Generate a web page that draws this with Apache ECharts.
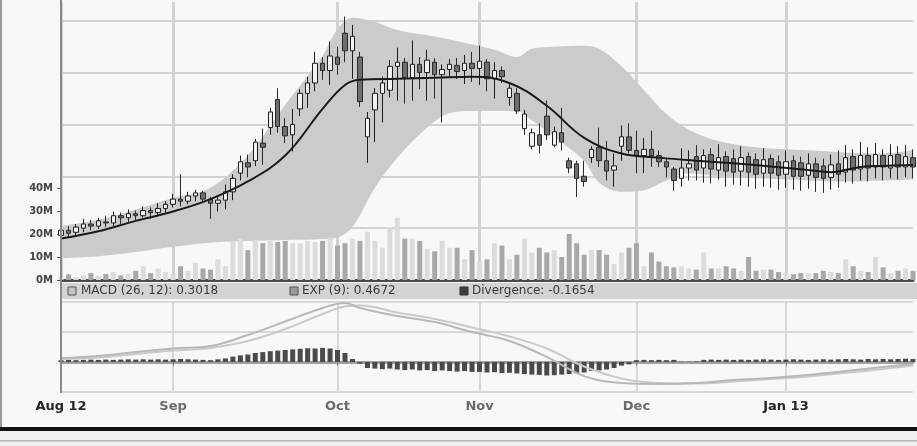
<!DOCTYPE html>
<html><head><meta charset="utf-8">
<script src="https://cdn.jsdelivr.net/npm/echarts@6/dist/echarts.min.js"></script>
<style>html,body{margin:0;padding:0;background:#f8f8f8}#c{width:917px;height:446px}</style>
</head><body><div id="c"></div><script>
// ---- data ----
const tradingDays = Array.from({length: 115}, (_, i) => 'Day ' + (i + 1));
const monthTickIdx = [0, 15, 37, 56, 77, 97];
const monthTickLabels = ['Aug 12', 'Sep', 'Oct', 'Nov', 'Dec', 'Jan 13'];

const opens = [19.3,19.8,19.6,20.0,20.4,20.2,20.6,20.5,21.2,21.0,
21.4,21.2,21.7,21.5,21.9,22.3,22.8,22.6,23.1,23.4,
22.8,22.4,22.7,23.5,25.3,26.3,26.5,28.2,29.7,32.4,
29.8,29.0,31.5,33.0,34.0,35.9,35.2,36.5,38.8,37.1,
36.5,28.8,31.4,33.0,33.3,35.6,36.0,34.5,35.8,35.0,
36.0,34.8,35.3,35.7,35.2,35.9,35.4,36.0,34.4,35.2,
32.6,33.0,29.6,27.9,29.0,30.8,28.0,29.2,26.5,26.2,
25.0,26.8,27.8,26.5,25.6,27.9,28.8,27.5,27.0,27.6,
27.0,26.4,25.7,24.8,25.8,26.9,25.8,27.1,25.6,26.9,
26.7,25.5,26.9,26.6,25.3,26.7,26.4,25.2,26.5,26.3,
25.1,26.2,26.0,24.9,26.2,25.4,26.9,25.7,27.0,25.9,
27.0,25.8,27.1,25.9,26.8];
const closes = [19.8,19.5,20.1,20.4,20.2,20.7,20.5,21.2,21.0,21.4,
21.2,21.7,21.5,21.9,22.3,22.8,22.6,23.1,23.4,22.8,
22.4,22.7,23.5,24.8,26.4,25.9,28.3,27.8,31.2,29.8,
28.9,30.0,33.0,34.0,35.9,35.2,36.6,35.8,37.1,38.5,
32.2,30.6,33.0,34.0,35.6,36.0,34.5,35.8,35.0,36.2,
34.8,35.3,35.8,35.1,35.9,35.4,36.1,34.4,35.2,34.6,
33.5,31.3,31.0,29.2,28.0,29.0,29.3,28.3,25.8,24.8,
24.5,27.6,26.5,25.5,26.0,28.8,27.5,27.0,27.6,27.0,
26.4,25.9,24.6,25.8,26.2,25.6,27.0,25.7,26.8,25.5,
25.4,26.8,25.4,25.2,26.6,25.3,25.1,26.4,25.0,25.0,
26.2,24.9,24.8,26.1,25.2,26.8,25.6,27.0,25.8,27.1,
25.9,27.0,25.9,26.9,25.9];
const lows = [19.0,19.1,19.3,19.6,19.8,19.9,20.1,20.2,20.4,20.6,
20.8,21.0,20.9,21.2,21.5,22.0,22.1,22.3,22.6,22.4,
20.9,21.6,21.8,22.7,24.6,24.9,26.0,26.1,29.0,29.2,
28.2,27.4,30.8,31.6,33.2,34.3,33.8,34.8,36.0,34.4,
31.7,26.3,28.3,30.2,32.6,32.3,32.0,32.3,33.4,32.3,
32.5,30.2,34.6,34.4,33.9,34.1,33.8,33.2,32.5,34.0,
31.8,31.0,29.0,27.6,27.2,28.5,27.8,27.5,25.3,23.0,
24.0,26.3,25.9,24.6,24.0,26.5,27.2,25.3,25.3,25.9,
25.9,24.9,23.6,24.0,24.6,24.6,24.4,24.3,24.7,24.0,
24.2,24.1,24.0,23.8,24.0,23.9,23.7,23.9,23.7,23.6,
23.8,23.5,23.4,23.7,23.9,24.4,24.3,24.6,24.5,24.8,
24.6,24.8,24.7,24.9,24.8];
const highs = [20.1,20.2,20.4,20.9,20.8,21.0,21.2,21.6,21.5,21.8,
21.7,22.1,22.0,22.4,22.6,23.3,25.2,23.5,23.7,23.6,
23.0,23.2,24.2,25.2,27.0,27.1,28.6,29.6,31.6,33.5,
30.6,31.5,33.4,34.6,37.0,36.5,38.0,37.5,40.4,39.6,
37.0,31.2,33.5,34.6,36.2,37.4,36.4,38.1,36.5,37.2,
36.4,35.8,36.3,36.4,36.7,37.0,37.6,36.3,36.0,35.6,
34.0,33.5,31.4,29.6,30.1,32.3,29.8,31.6,26.8,26.5,
26.5,27.9,29.7,28.4,27.2,29.9,30.1,29.4,28.7,29.4,
27.5,26.8,25.9,27.7,27.5,28.0,27.6,27.7,28.1,27.4,
27.6,27.9,27.3,27.2,27.7,27.1,27.0,27.5,27.0,26.9,
27.2,26.8,26.7,27.1,27.5,28.0,27.6,28.3,27.8,28.2,
27.6,28.1,27.9,28.0,27.6];
// volume in millions
const volumes = [1.5,2.5,1.2,2,3,1.8,2.6,3.5,2,2.8,4,6,3,5,3.5,2.5,6,4,7.5,5,4.5,9,6,
17,18,13,17.5,16,17,16.5,17,16,16,17,16.5,17,18.5,15,16,
18,17,21,17,14,23,27,18,18,17,13.5,12.5,17,14,14,9,13,8,9,16,15,9,
11,18,12,14,12,13,10,20,16,11,13,13,11,7,12,14,16,6,12,8,6,5.5,6,5,4.5,
12,5,5,6,5,4,10,4,4.5,4.5,3.5,3,2.5,3,3,3,4,3.5,3,9,6,4,3.5,10,5.5,3,4,5,4];

// Bollinger band, read at these trading-day indices
const bandIdx   = [0,5,10,15,20,25,30,35,37,39,42,45,49,52,55,58,61,63,66,70,72,75,78,81,84,88,93,100,105,110,114];
const bandUpper = [20.2,20.8,21.8,22.9,23.9,27.0,31.9,36.6,39.2,40.3,39.9,39.1,38.6,38.2,37.7,37.2,36.5,37.3,37.5,37.6,37.3,35.6,33.3,31.0,29.5,28.4,27.8,27.5,27.3,27.2,27.5];
const bandLower = [17.1,17.3,17.7,18.2,18.6,18.75,18.85,18.95,19.1,20.1,23.9,26.8,29.7,31.1,31.3,31.3,31.3,30.4,28.8,26.5,24.4,23.5,23.65,24.6,25.3,25.0,24.8,24.6,24.5,24.6,24.7];

// moving average
const maIdx    = [0,5,10,15,20,25,30,35,38,40,45,50,55,60,65,70,75,80,85,90,95,100,103,107,110,114];
const maValues = [19.0,19.7,20.7,21.6,22.8,24.5,27.0,31.5,33.8,34.3,34.4,34.5,34.6,34.0,31.8,28.7,27.2,26.8,26.5,26.25,25.95,25.6,25.4,25.9,26.0,26.1];

// MACD panel
const macdIdx    = [0,5,10,15,20,25,30,35,38,40,45,50,55,60,65,70,75,80,85,90,95,100,105,110,114];
const macdLine   = [0.13,0.2,0.33,0.45,0.53,0.9,1.35,1.8,1.97,1.8,1.53,1.33,1.0,0.7,0.17,-0.47,-0.7,-0.73,-0.7,-0.6,-0.53,-0.43,-0.3,-0.17,-0.07];
const signalLine = [0.1,0.15,0.27,0.38,0.47,0.7,1.1,1.6,1.85,1.88,1.65,1.43,1.15,0.85,0.45,-0.15,-0.55,-0.7,-0.72,-0.65,-0.57,-0.48,-0.36,-0.23,-0.12];
const divergence = [0.06,0.07,0.06,0.07,0.08,0.07,0.08,0.07,0.08,0.09,0.08,0.09,0.08,0.09,0.08,
0.09,0.1,0.09,0.08,0.07,0.06,0.09,0.12,
0.18,0.22,0.25,0.3,0.33,0.36,0.38,0.4,0.42,0.44,0.46,0.45,0.47,0.45,0.4,0.3,
0.1,-0.05,
-0.2,-0.22,-0.24,-0.22,-0.25,-0.27,-0.25,-0.28,-0.27,-0.3,-0.28,-0.3,-0.32,-0.3,-0.33,
-0.33,-0.35,-0.34,-0.37,-0.36,-0.38,-0.4,-0.42,-0.43,-0.45,-0.44,-0.42,-0.4,-0.38,-0.35,-0.3,-0.28,-0.25,-0.2,-0.12,
-0.08,
0.06,0.07,0.06,0.07,0.06,0.07,
0.01,0.01,0.02,
0.07,0.08,0.07,0.08,0.07,0.08,0.07,0.08,0.09,0.08,0.07,0.08,0.09,0.08,0.07,0.08,0.09,0.08,0.09,0.1,0.09,0.08,0.1,0.09,0.1,0.09,0.1,0.11,0.1];

const legendTexts = ['MACD (26, 12): 0.3018', 'EXP (9): 0.4672', 'Divergence: -0.1654'];

// ---- build ----
const candleData = opens.map((o, i) => [o, closes[i], lows[i], highs[i]]);
const isUp = opens.map((o, i) => closes[i] >= o);
const bandLowerPts = bandIdx.map((d, k) => [d, bandLower[k]]);
const bandWidthPts = bandIdx.map((d, k) => [d, +(bandUpper[k] - bandLower[k]).toFixed(2)]);
const maPts = maIdx.map((d, k) => [d, maValues[k]]);
const macdPts = macdIdx.map((d, k) => [d, macdLine[k]]);
const signalPts = macdIdx.map((d, k) => [d, signalLine[k]]);
const isMonth = (index) => monthTickIdx.includes(index);
const FONT = '"DejaVu Sans", Verdana, sans-serif';

const chart = echarts.init(document.getElementById('c'));
const L = 61, R = 4;
chart.setOption({
  animation: false,
  backgroundColor: '#f8f8f8',
  grid: [
    {left: L, right: R, top: 0, height: 280},
    {left: L, right: R, top: 188, height: 92},
    {left: L, right: R, top: 302, height: 90}
  ],
  xAxis: [
    {type: 'category', gridIndex: 0, data: tradingDays, boundaryGap: false,
     axisLine: {show: false}, axisTick: {show: false}, axisLabel: {show: false},
     splitLine: {show: true, interval: isMonth, lineStyle: {color: '#d2d2d2', width: 3}}},
    {type: 'category', gridIndex: 1, data: tradingDays, boundaryGap: false,
     axisLine: {show: true, lineStyle: {color: '#4a4a4a', width: 3}}, axisTick: {show: false}, axisLabel: {show: false},
     splitLine: {show: false}},
    {type: 'category', gridIndex: 2, data: tradingDays, boundaryGap: false,
     axisLine: {show: true, lineStyle: {color: '#a0a0a0', width: 3}},
     axisTick: {show: true, interval: isMonth, length: 4, lineStyle: {color: '#888'}},
     axisLabel: {show: true, interval: isMonth, margin: 8,
       formatter: (v) => {
         const k = monthTickIdx.indexOf(tradingDays.indexOf(v));
         if (k < 0) return '';
         const t = monthTickLabels[k];
         return (k === 0 || k === monthTickLabels.length - 1) ? '{y|' + t + '}' : '{m|' + t + '}';
       },
       rich: {
         y: {fontFamily: FONT, fontSize: 13, fontWeight: 'bold', color: '#262626'},
         m: {fontFamily: FONT, fontSize: 13, fontWeight: 'bold', color: '#6a6a6a'}
       }},
     splitLine: {show: true, interval: isMonth, lineStyle: {color: '#d8d8d8', width: 2}}}
  ],
  yAxis: [
    {type: 'value', gridIndex: 0, min: 15, max: 42, interval: 5, position: 'right',
     axisLine: {show: false}, axisTick: {show: false}, axisLabel: {show: false},
     splitLine: {show: true, lineStyle: {color: '#d2d2d2', width: 2}}},
    {type: 'value', gridIndex: 1, min: 0, max: 40, interval: 10, position: 'left',
     axisLine: {show: false}, axisTick: {show: true, length: 4, lineStyle: {color: '#555'}},
     axisLabel: {show: true, margin: 8, formatter: '{value}M', fontFamily: FONT, fontSize: 10, fontWeight: 'bold', color: '#444'},
     splitLine: {show: false}},
    {type: 'value', gridIndex: 2, min: -1, max: 2, interval: 1,
     axisLine: {show: false}, axisTick: {show: false}, axisLabel: {show: false},
     splitLine: {show: true, lineStyle: {color: '#d8d8d8', width: 2}}}
  ],
  series: [
    {name: 'BB lower', type: 'line', xAxisIndex: 0, yAxisIndex: 0, stack: 'bb', data: bandLowerPts, z: 1,
     smooth: 0.35, symbol: 'none', lineStyle: {width: 0, opacity: 0}, silent: true},
    {name: 'BB band', type: 'line', xAxisIndex: 0, yAxisIndex: 0, stack: 'bb', data: bandWidthPts, z: 1,
     smooth: 0.35, symbol: 'none', lineStyle: {width: 0, opacity: 0}, areaStyle: {color: '#cbcbcb', opacity: 1}, silent: true},
    {name: 'Volume', type: 'bar', xAxisIndex: 1, yAxisIndex: 1, barWidth: 5, z: 2,
     data: volumes.map((v, i) => ({value: v, itemStyle: {color: isUp[i] ? '#dcdcdc' : '#a8a8a8'}}))},
    {name: 'Price', type: 'candlestick', xAxisIndex: 0, yAxisIndex: 0, barWidth: 5, data: candleData, z: 5,
     itemStyle: {color: '#f2f2f2', color0: '#6e6e6e', borderColor: '#1e1e1e', borderColor0: '#2a2a2a', borderWidth: 1}},
    {name: 'MA', type: 'line', xAxisIndex: 0, yAxisIndex: 0, data: maPts, smooth: 0.4, symbol: 'none', z: 6,
     lineStyle: {color: '#1a1a1a', width: 2}},
    {name: 'Divergence', type: 'bar', xAxisIndex: 2, yAxisIndex: 2, barWidth: 5, data: divergence, z: 3,
     itemStyle: {color: '#4a4a4a'}},
    {name: 'EXP', type: 'line', xAxisIndex: 2, yAxisIndex: 2, data: signalPts, smooth: 0.4, symbol: 'none', z: 4,
     lineStyle: {color: '#cacaca', width: 2}},
    {name: 'MACD', type: 'line', xAxisIndex: 2, yAxisIndex: 2, data: macdPts, smooth: 0.4, symbol: 'none', z: 4,
     lineStyle: {color: '#b8b8b8', width: 2}}
  ],
  graphic: [
    {type: 'rect', shape: {x: 62, y: 0, width: 855, height: 2}, style: {fill: '#f8f8f8'}, z: 100},
    {type: 'rect', shape: {x: 0, y: 0, width: 2, height: 428}, style: {fill: '#9a9a9a'}, z: 100},
    {type: 'rect', shape: {x: 60, y: 0, width: 2, height: 393}, style: {fill: '#8a8a8a'}, z: 100},
    {type: 'rect', shape: {x: 62, y: 283, width: 855, height: 16}, style: {fill: '#d3d3d3'}, z: 100},
    {type: 'rect', shape: {x: 68, y: 287, width: 8, height: 8}, style: {fill: '#c4c4c4', stroke: '#555', lineWidth: 1}, z: 101},
    {type: 'text', x: 81, y: 291, style: {text: legendTexts[0], fill: '#3a3a3a', font: '12px ' + FONT, verticalAlign: 'middle'}, z: 101},
    {type: 'rect', shape: {x: 290, y: 287, width: 8, height: 8}, style: {fill: '#9a9a9a', stroke: '#555', lineWidth: 1}, z: 101},
    {type: 'text', x: 302, y: 291, style: {text: legendTexts[1], fill: '#3a3a3a', font: '12px ' + FONT, verticalAlign: 'middle'}, z: 101},
    {type: 'rect', shape: {x: 460, y: 287, width: 8, height: 8}, style: {fill: '#3c3c3c', stroke: '#333', lineWidth: 1}, z: 101},
    {type: 'text', x: 472, y: 291, style: {text: legendTexts[2], fill: '#3a3a3a', font: '12px ' + FONT, verticalAlign: 'middle'}, z: 101},
    {type: 'rect', shape: {x: 0, y: 427, width: 917, height: 4}, style: {fill: '#111'}, z: 100},
    {type: 'rect', shape: {x: 0, y: 431, width: 917, height: 15}, style: {fill: '#efefef'}, z: 100},
    {type: 'rect', shape: {x: 0, y: 440, width: 917, height: 1.5}, style: {fill: '#b5b5b5'}, z: 100}
  ]
});
</script></body></html>
